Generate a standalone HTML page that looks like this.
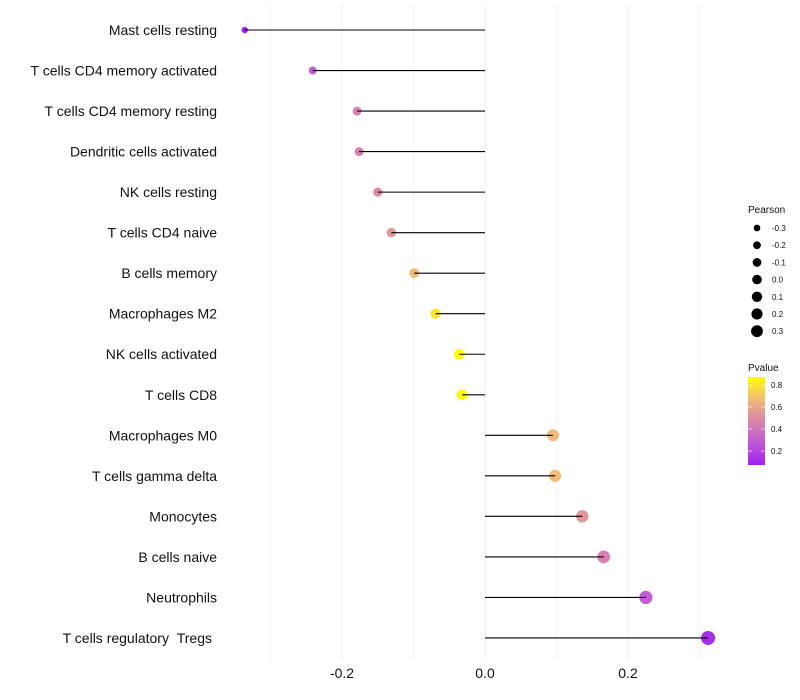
<!DOCTYPE html>
<html><head><meta charset="utf-8"><style>
body{margin:0;background:#fff}
svg{display:block;font-family:"Liberation Sans",sans-serif}
</style></head><body>
<svg id="chart" width="800" height="700"></svg>
<script>
const categories=["Mast cells resting","T cells CD4 memory activated","T cells CD4 memory resting","Dendritic cells activated","NK cells resting","T cells CD4 naive","B cells memory","Macrophages M2","NK cells activated","T cells CD8","Macrophages M0","T cells gamma delta","Monocytes","B cells naive","Neutrophils","T cells regulatory \u00a0Tregs"];
const pearson=[-0.336,-0.241,-0.179,-0.176,-0.150,-0.131,-0.099,-0.069,-0.036,-0.032,0.095,0.098,0.136,0.166,0.225,0.312];
const pvalue=[0.08,0.3,0.45,0.45,0.5,0.55,0.68,0.8,0.9,0.9,0.68,0.68,0.55,0.45,0.3,0.12];
const xTicks=[-0.2,0,0.2];
const xTickLabels=["-0.2","0.0","0.2"];
const sizeLegend=[-0.3,-0.2,-0.1,0.0,0.1,0.2,0.3];
const sizeLegendLabels=["-0.3","-0.2","-0.1","0.0","0.1","0.2","0.3"];
const colorLegend=[0.8,0.6,0.4,0.2];

const NS="http://www.w3.org/2000/svg";
const svg=document.getElementById('chart');
function mk(t,a,txt){const e=document.createElementNS(NS,t);for(const k in a)e.setAttribute(k,a[k]);if(txt!==undefined)e.textContent=txt;svg.appendChild(e);return e;}
const x=v=>485+v*715;
const y=i=>30+i*40.53;
const r=v=>Math.sqrt(Math.max(4,30.4+60*v));
const rl=v=>Math.sqrt(Math.max(4,23+40*v));
function col(p){
  const stops=[[0.07,[160,32,240]],[0.3,[192,96,208]],[0.45,[216,128,176]],[0.55,[224,152,152]],[0.68,[240,188,120]],[0.88,[255,255,0]]];
  if(p<=stops[0][0])return `rgb(${stops[0][1]})`;
  for(let i=1;i<stops.length;i++){if(p<=stops[i][0]){const t=(p-stops[i-1][0])/(stops[i][0]-stops[i-1][0]);const a=stops[i-1][1],b=stops[i][1];return `rgb(${a.map((c,j)=>Math.round(c+(b[j]-c)*t)).join(',')})`;}}
  return 'rgb(255,255,0)';
}
[-0.3,-0.2,-0.1,0,0.1,0.2,0.3].forEach(v=>{const g=mk('line',{x1:x(v),x2:x(v),y1:5,y2:660,stroke:'#ececec','stroke-width':Math.round(v*10)%2===0?1:0.6});
});
xTicks.forEach((v,i)=>{const t=mk('text',{x:x(v),y:678,'text-anchor':'middle','font-size':14,fill:'#111'},xTickLabels[i]);
});
categories.forEach((c,i)=>{
  const t=mk('text',{x:217,y:y(i)+5,'text-anchor':'end','font-size':14,fill:'#111'},c);
  
  if(i===15)t.setAttribute('x',212);
  const pt=mk('circle',{cx:x(pearson[i]),cy:y(i),r:r(pearson[i]),fill:col(pvalue[i])});
  
  const ln=mk('line',{x1:x(0),x2:x(pearson[i]),y1:y(i),y2:y(i),stroke:'#000','stroke-width':1.1});
  
});
let lt=mk('text',{x:748,y:213,'font-size':10,fill:'#111'},'Pearson');

sizeLegend.forEach((v,i)=>{const yy=228+i*17.2;
 const c=mk('circle',{cx:757,cy:yy,r:rl(v),fill:'#000'});
 const t=mk('text',{x:772,y:yy+3,'font-size':8,fill:'#111'},sizeLegendLabels[i]);});
let ct=mk('text',{x:748,y:371,'font-size':10,fill:'#111'},'Pvalue');

const defs=mk('defs',{});const lg=document.createElementNS(NS,'linearGradient');lg.setAttribute('id','pg');lg.setAttribute('x1',0);lg.setAttribute('y1',1);lg.setAttribute('x2',0);lg.setAttribute('y2',0);defs.appendChild(lg);
for(let k=0;k<=10;k++){const s=document.createElementNS(NS,'stop');s.setAttribute('offset',k/10);s.setAttribute('stop-color',col(0.073+k/10*(0.88-0.073)));lg.appendChild(s);}
const bar=mk('rect',{x:748,y:377,width:17,height:88,fill:'url(#pg)'});
const py=p=>451-(p-0.2)*110;
colorLegend.forEach(p=>{mk('line',{x1:748,x2:752,y1:py(p),y2:py(p),stroke:'#fff','stroke-width':0.6});mk('line',{x1:761,x2:765,y1:py(p),y2:py(p),stroke:'#fff','stroke-width':0.6});
 const t=mk('text',{x:771,y:py(p)+3,'font-size':8,fill:'#111'},p.toFixed(1));});
</script>
</body></html>
